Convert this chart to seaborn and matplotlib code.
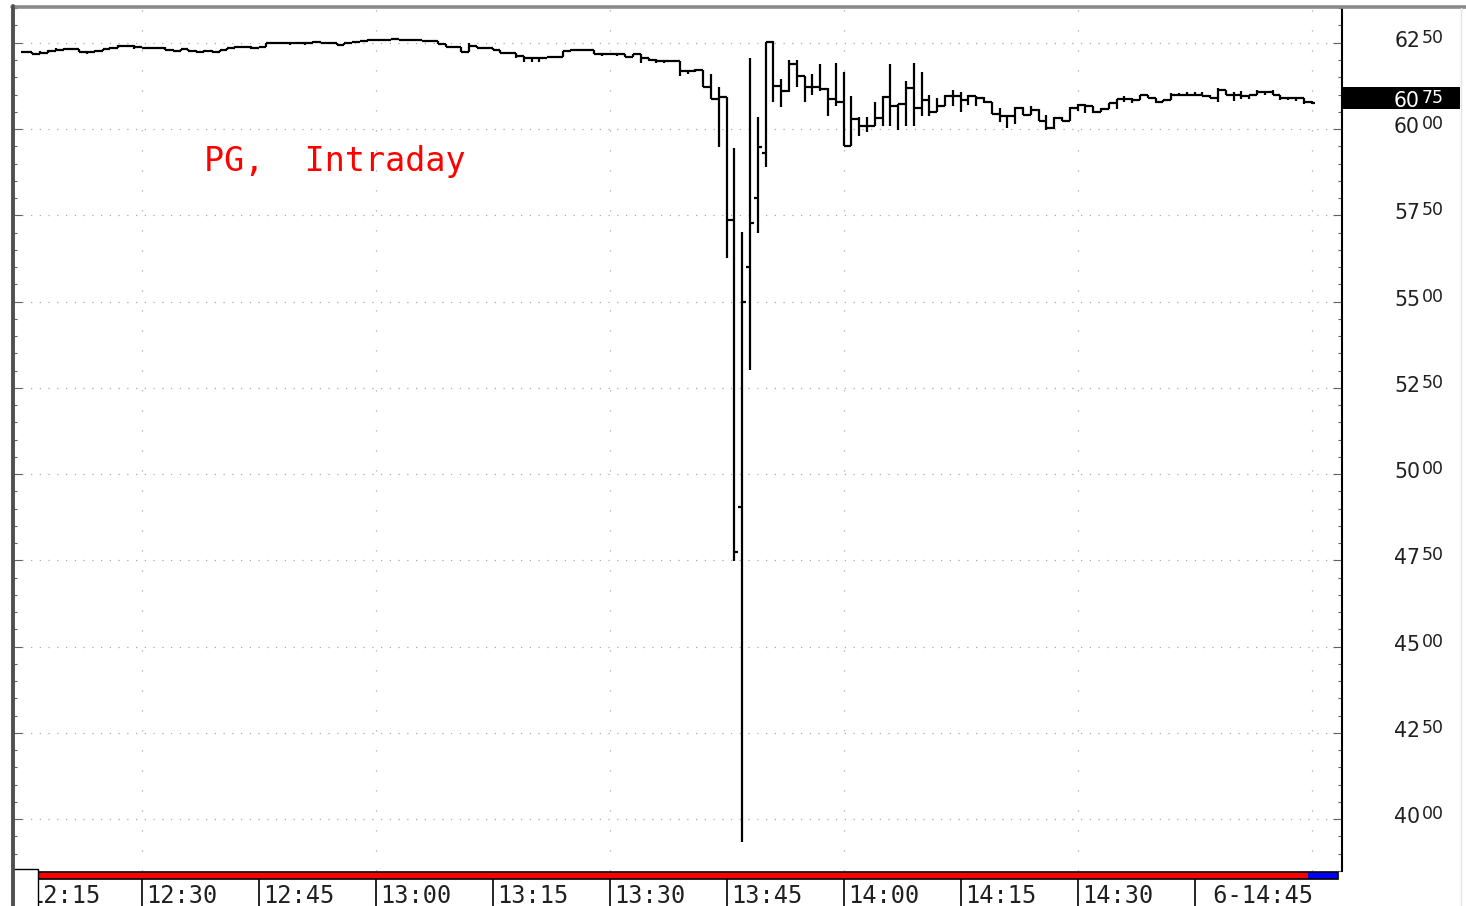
import numpy as np
import matplotlib
matplotlib.use("Agg")
import matplotlib.pyplot as plt
import seaborn as sns
from matplotlib.patches import Rectangle
from matplotlib.lines import Line2D
from matplotlib.transforms import blended_transform_factory, offset_copy

# one-minute bars from 12:15 to 15:00 (Central time), PG on 6 May
opens = [
    62.24, 62.24, 62.18, 62.21, 62.27, 62.30, 62.33, 62.33, 62.24, 62.24,
    62.27, 62.33, 62.36, 62.41, 62.41, 62.38, 62.36, 62.36, 62.36, 62.30,
    62.27, 62.33, 62.27, 62.24, 62.27, 62.24, 62.30, 62.36, 62.38, 62.38,
    62.36, 62.38, 62.50, 62.50, 62.50, 62.50, 62.50, 62.50, 62.53, 62.50,
    62.50, 62.44, 62.50, 62.53, 62.56, 62.59, 62.59, 62.59, 62.62, 62.59,
    62.59, 62.59, 62.56, 62.56, 62.47, 62.38, 62.38, 62.24, 62.41, 62.36,
    62.36, 62.30, 62.21, 62.21, 62.13, 62.07, 62.07, 62.07, 62.10, 62.10,
    62.27, 62.30, 62.30, 62.30, 62.18, 62.18, 62.18, 62.18, 62.10, 62.18,
    62.07, 62.01, 61.98, 61.98, 61.98, 61.67, 61.67, 61.72, 61.23, 60.86,
    60.92, 57.35, 49.04, 56.00, 58.01, 59.31, 62.53, 61.26, 61.09, 61.87,
    61.55, 61.23, 61.21, 61.15, 60.86, 60.77, 59.51, 60.28, 60.08, 60.08,
    60.31, 60.92, 60.66, 60.72, 61.18, 60.60, 60.83, 60.49, 60.66, 60.95,
    60.95, 60.83, 60.95, 60.89, 60.77, 60.43, 60.37, 60.37, 60.60, 60.40,
    60.54, 60.23, 60.03, 60.31, 60.23, 60.60, 60.69, 60.66, 60.49, 60.57,
    60.75, 60.86, 60.86, 60.83, 61.00, 60.89, 60.77, 60.83, 61.00, 61.00,
    61.00, 61.00, 60.95, 60.89, 61.12, 61.00, 61.00, 60.95, 60.98, 61.06,
    61.06, 61.00, 60.89, 60.89, 60.89, 60.77,
]
highs = [
    62.26, 62.24, 62.27, 62.29, 62.36, 62.35, 62.36, 62.33, 62.26, 62.29,
    62.33, 62.38, 62.43, 62.43, 62.43, 62.38, 62.38, 62.38, 62.38, 62.31,
    62.33, 62.33, 62.28, 62.28, 62.28, 62.30, 62.36, 62.40, 62.40, 62.40,
    62.38, 62.50, 62.52, 62.52, 62.52, 62.52, 62.52, 62.56, 62.53, 62.52,
    62.50, 62.50, 62.53, 62.56, 62.62, 62.62, 62.62, 62.62, 62.62, 62.62,
    62.61, 62.59, 62.58, 62.56, 62.47, 62.40, 62.38, 62.50, 62.41, 62.38,
    62.36, 62.30, 62.23, 62.21, 62.13, 62.09, 62.09, 62.10, 62.12, 62.27,
    62.33, 62.33, 62.32, 62.30, 62.21, 62.21, 62.20, 62.18, 62.18, 62.18,
    62.07, 62.03, 62.01, 62.00, 61.98, 61.69, 61.75, 61.72, 61.58, 61.21,
    60.92, 59.45, 57.03, 62.07, 60.34, 62.53, 62.56, 61.46, 62.01, 62.01,
    61.55, 61.58, 61.87, 61.18, 61.92, 61.64, 60.95, 60.34, 60.34, 60.77,
    60.95, 61.87, 60.72, 61.38, 61.92, 61.64, 61.00, 60.89, 60.98, 61.12,
    61.06, 61.00, 60.95, 60.92, 60.77, 60.60, 60.40, 60.63, 60.63, 60.66,
    60.57, 60.40, 60.34, 60.34, 60.63, 60.72, 60.72, 60.66, 60.60, 60.75,
    60.86, 60.95, 60.89, 61.00, 61.00, 60.89, 60.83, 61.03, 61.03, 61.06,
    61.06, 61.06, 61.00, 61.18, 61.12, 61.06, 61.09, 61.00, 61.12, 61.09,
    61.12, 61.00, 60.92, 60.92, 60.89, 60.80,
]
lows = [
    62.22, 62.16, 62.18, 62.21, 62.27, 62.30, 62.31, 62.24, 62.18, 62.22,
    62.27, 62.33, 62.36, 62.39, 62.33, 62.35, 62.34, 62.34, 62.30, 62.25,
    62.27, 62.26, 62.22, 62.24, 62.22, 62.24, 62.30, 62.36, 62.36, 62.33,
    62.35, 62.38, 62.48, 62.48, 62.44, 62.48, 62.44, 62.50, 62.48, 62.48,
    62.44, 62.43, 62.48, 62.52, 62.56, 62.57, 62.57, 62.58, 62.58, 62.57,
    62.57, 62.55, 62.54, 62.47, 62.38, 62.36, 62.24, 62.24, 62.36, 62.33,
    62.30, 62.21, 62.19, 62.07, 61.95, 61.93, 61.93, 62.07, 62.08, 62.10,
    62.26, 62.28, 62.26, 62.18, 62.13, 62.16, 62.12, 62.10, 62.10, 61.92,
    61.98, 61.90, 61.92, 61.93, 61.55, 61.58, 61.64, 61.21, 60.86, 59.48,
    56.26, 47.48, 39.34, 53.01, 56.98, 58.90, 60.77, 60.63, 61.06, 61.21,
    60.77, 61.00, 61.09, 60.37, 60.66, 59.51, 59.51, 59.80, 59.91, 60.08,
    60.08, 60.08, 59.97, 60.08, 60.08, 60.37, 60.37, 60.49, 60.66, 60.66,
    60.49, 60.69, 60.66, 60.75, 60.43, 60.20, 60.03, 60.14, 60.40, 60.40,
    60.23, 59.97, 60.00, 60.23, 60.23, 60.51, 60.46, 60.46, 60.49, 60.57,
    60.57, 60.77, 60.75, 60.83, 60.89, 60.75, 60.77, 60.83, 60.95, 60.95,
    60.95, 60.95, 60.89, 60.77, 60.98, 60.80, 60.86, 60.86, 61.00, 60.98,
    61.00, 60.83, 60.83, 60.80, 60.72, 60.72,
]
closes = [
    62.24, 62.18, 62.21, 62.27, 62.30, 62.33, 62.33, 62.24, 62.24, 62.27,
    62.33, 62.36, 62.41, 62.41, 62.38, 62.36, 62.36, 62.36, 62.30, 62.27,
    62.33, 62.27, 62.24, 62.27, 62.24, 62.30, 62.36, 62.38, 62.38, 62.36,
    62.38, 62.50, 62.50, 62.50, 62.50, 62.50, 62.50, 62.53, 62.50, 62.50,
    62.44, 62.50, 62.53, 62.56, 62.59, 62.59, 62.59, 62.62, 62.59, 62.59,
    62.59, 62.56, 62.56, 62.47, 62.38, 62.38, 62.24, 62.41, 62.36, 62.36,
    62.30, 62.21, 62.21, 62.13, 62.07, 62.07, 62.07, 62.10, 62.10, 62.27,
    62.30, 62.30, 62.30, 62.18, 62.18, 62.18, 62.18, 62.10, 62.18, 62.07,
    62.01, 61.98, 61.98, 61.98, 61.67, 61.67, 61.72, 61.23, 60.86, 60.92,
    57.35, 47.74, 54.99, 57.29, 59.48, 62.53, 61.26, 61.09, 61.87, 61.55,
    61.23, 61.21, 61.15, 60.86, 60.77, 59.51, 60.28, 60.08, 60.08, 60.31,
    60.92, 60.66, 60.72, 61.18, 60.60, 60.83, 60.49, 60.66, 60.95, 60.95,
    60.83, 60.95, 60.89, 60.77, 60.43, 60.37, 60.37, 60.60, 60.40, 60.54,
    60.23, 60.03, 60.31, 60.23, 60.60, 60.69, 60.66, 60.49, 60.57, 60.75,
    60.86, 60.86, 60.83, 61.00, 60.89, 60.77, 60.83, 61.00, 61.00, 61.00,
    61.00, 60.95, 60.89, 61.12, 61.00, 61.00, 60.95, 60.98, 61.06, 61.06,
    61.00, 60.89, 60.89, 60.89, 60.77, 60.75,
]

time_ticks = [0, 15, 30, 45, 60, 75, 90, 105, 120, 135, 150]   # minutes after 12:15
time_labels = ["12:15", "12:30", "12:45", "13:00", "13:15", "13:30",
               "13:45", "14:00", "14:15", "14:30", " 6-14:45"]
price_levels = [62.5, 60.0, 57.5, 55.0, 52.5, 50.0, 47.5, 45.0, 42.5, 40.0]
last_price = 60.75
title = "PG,  Intraday"

sns.set_theme(style="white")
plt.rcParams["font.family"] = ["DejaVu Sans"]

W, H = 1466, 906
fig = plt.figure(figsize=(W / 100, H / 100), dpi=100)
fig.patch.set_facecolor("white")


def fx(px):
    return px / W


def fy(py):
    return 1 - py / H


minutes = np.arange(len(closes))
x_left, x_right = (13 - 24.5) / 7.8, (1342 - 24.5) / 7.8
ppd = 34.76  # pixels per dollar
y_low, y_high = 62.5 - (871 - 43) / ppd, 62.5 + (43 - 8) / ppd

ax = fig.add_axes([fx(13), fy(871), fx(1342) - fx(13), fy(8) - fy(871)])
ax.set_facecolor("white")
ax.set_xlim(x_left, x_right)
ax.set_ylim(y_low, y_high)

# OHLC bars
lw = 1.6
ax.vlines(minutes, lows, highs, color="black", lw=lw, zorder=3)
ax.hlines(opens, minutes - 0.5, minutes, color="black", lw=lw, zorder=3)
ax.hlines(closes, minutes, minutes + 0.5, color="black", lw=lw, zorder=3)

# grid and ticks
ax.set_yticks(np.arange(40, 63, 2.5))
ax.set_yticks(np.arange(38.5, 63.6, 0.5), minor=True)
ax.set_xticks(np.arange(15, 170, 30))
ax.grid(True, axis="y", which="major", color="#a8a8a8", lw=0.9, linestyle=(0, (1, 6)))
ax.grid(True, axis="x", which="major", color="#a8a8a8", lw=0.9, linestyle=(0, (1, 15)))
ax.tick_params(axis="y", which="both", direction="in", left=True, right=True,
               labelleft=False, labelright=False, color="#606060", width=0.8)
ax.tick_params(axis="y", which="major", length=6.5)
ax.tick_params(axis="y", which="minor", length=3)
ax.tick_params(axis="x", which="both", length=0, labelbottom=False)
for side in ["left", "top", "bottom"]:
    ax.spines[side].set_visible(False)
ax.spines["right"].set_color("black")
ax.spines["right"].set_linewidth(1.5)

ax.text((204 - 13) / 1329, (871 - 162) / 863, title, transform=ax.transAxes,
        color="#ff0000", fontsize=24, family="DejaVu Sans Mono", va="center", ha="left")

# right price scale, cents written small and raised
trans = blended_transform_factory(ax.transAxes, ax.transData)
t_big = offset_copy(trans, fig=fig, x=0, y=-4, units="dots")
t_small = offset_copy(trans, fig=fig, x=2, y=0, units="dots")
xr = (1420 - 13) / 1329
for p in price_levels:
    dollars, cents = int(p), int(round((p - int(p)) * 100))
    ax.text(xr, p, f"{dollars}", transform=t_big, ha="right", va="baseline",
            fontsize=14.8, color="#202020", clip_on=False)
    ax.text(xr, p, f"{cents:02d}", transform=t_small, ha="left", va="baseline",
            fontsize=12.5, color="#202020", clip_on=False)

box = Rectangle((1.0008, last_price - 6 / ppd), (1460 - 1343) / 1329, 22 / ppd,
                transform=trans, facecolor="black", edgecolor="none", clip_on=False, zorder=4)
ax.add_patch(box)
d, c = int(last_price), int(round((last_price - int(last_price)) * 100))
ax.text(xr, last_price, f"{d}", transform=t_big, ha="right", va="baseline",
        fontsize=14.8, color="white", clip_on=False, zorder=5)
ax.text(xr, last_price, f"{c:02d}", transform=t_small, ha="left", va="baseline",
        fontsize=12.5, color="white", clip_on=False, zorder=5)

# time scale strip below the chart
ax2 = fig.add_axes([fx(13), fy(906), fx(1342) - fx(13), fy(868) - fy(906)])
ax2.set_xlim(x_left, x_right)
ax2.set_ylim(38, 0)
ax2.axis("off")
strip = blended_transform_factory(ax2.transAxes, ax2.transData)
red0, red1, blue1 = (38 - 13) / 1329, (1308 - 13) / 1329, (1338 - 13) / 1329
ax2.add_patch(Rectangle((red0, 3.5), red1 - red0, 7, transform=strip,
                        facecolor="#ff0000", edgecolor="none"))
ax2.add_patch(Rectangle((red1, 3.5), blue1 - red1, 7, transform=strip,
                        facecolor="#0000ff", edgecolor="none"))
ax2.add_patch(Rectangle((red0, 3.5), blue1 - red0, 7, transform=strip,
                        facecolor="none", edgecolor="black", lw=1.2))
ax2.vlines(time_ticks, 10.5, 38, color="black", lw=1.2)
for t, lab in zip(time_ticks, time_labels):
    ax2.text(t + 0.6, 35, lab, ha="left", va="baseline", fontsize=17,
             family="DejaVu Sans Mono", color="#202020")
ax2.add_patch(Rectangle((0, 0.5), red0, 38, transform=strip, facecolor="white",
                        edgecolor="black", lw=1.0, zorder=10))

# window frame
fig.add_artist(Line2D([fx(12), fx(1466)], [fy(7), fy(7)], color="#8a8a8a", lw=2.6))
fig.add_artist(Line2D([fx(13), fx(13)], [fy(6), 0], color="#505050", lw=2.8))
fig.add_artist(Line2D([fx(1461), fx(1461)], [fy(8), 0], color="#e4e4e4", lw=1))

fig.savefig("out.png", dpi=100, facecolor="white")
